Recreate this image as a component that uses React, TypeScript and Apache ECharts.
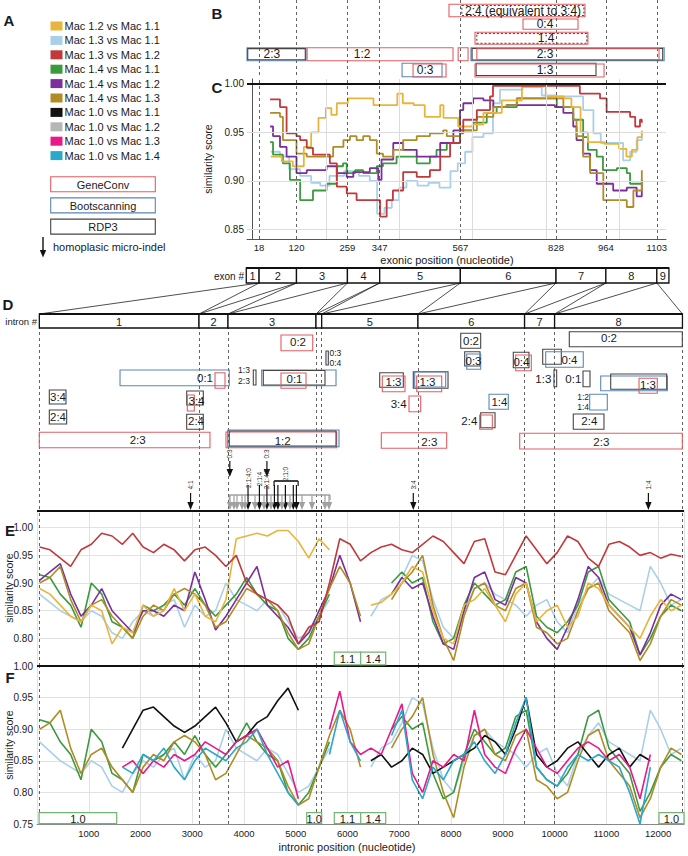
import React, { useEffect, useRef } from "react";
import * as echarts from "echarts";

const FONT = "'Liberation Sans', Arial, Helvetica, sans-serif";
const INK = "#1a1a1a";

// ---------------- Panel A: legend ----------------
const PAIR_NAMES = [
  "Mac 1.2 vs Mac 1.1", "Mac 1.3 vs Mac 1.1", "Mac 1.3 vs Mac 1.2", "Mac 1.4 vs Mac 1.1",
  "Mac 1.4 vs Mac 1.2", "Mac 1.4 vs Mac 1.3", "Mac 1.0 vs Mac 1.1", "Mac 1.0 vs Mac 1.2",
  "Mac 1.0 vs Mac 1.3", "Mac 1.0 vs Mac 1.4",
];
const PAIR_COLORS = ["#e8b53c", "#a9d0e8", "#c0393c", "#3b9a3d", "#7b2f9c", "#b18b24", "#111111", "#b6b6b6", "#e8198b", "#2ba8cc"];
const METHOD_NAMES = ["GeneConv", "Bootscanning", "RDP3"];
const KIND_STROKE = ["#e35d62", "#5a86b9", "#454545", "#454545"]; // GeneConv, Bootscan, RDP3, RDP3 (dotted)
const INDEL_NOTE = "homoplasic micro-indel";
const SCORE_NAME = "similarity score";

// ---------------- Panels B & C: exonic ----------------
const EXON_AXIS = [-15, 1128];
const EXON_BOUNDS = [18, 120, 259, 347, 567, 828, 964, 1103];
const EXON_EDGES = [-17, 1136];
const EXON_NUMS = ["1", "2", "3", "4", "5", "6", "7", "8", "9"];
const EXON_Y_TICKS = [0.85, 0.9, 0.95, 1.0];
const EXON_GRID_X = [200, 400, 600, 800, 1000];

// B boxes: [start, end, trackTop, trackBottom, method]
const B_BOXES = [
  [536, 907, 4.3, 16.7, 0], [571, 904, 5.5, 15.5, 3],
  [738, 888, 19, 29.3, 0],
  [607, 915, 32.3, 44.3, 0], [612, 912, 33.5, 43.2, 3],
  [-15, 146, 47.7, 60.7, 1], [-13, 144, 48.6, 59.8, 2],
  [149, 547, 47.7, 60.7, 0],
  [561, 588, 47.7, 60.7, 0],
  [596, 1123, 47.7, 60.7, 1], [599, 1119, 48.5, 60, 2], [612, 1109, 48.8, 59.5, 0],
  [408, 517, 63.3, 76.7, 1], [438, 528, 64, 77, 0],
  [610, 937, 63.3, 75.5, 2], [607, 959, 64, 77, 0],
];
const B_LABELS = [
  [738, 10.5, "2:4 (equivalent to 3:4)"], [798, 24.2, "0:4"], [801, 38.3, "1:4"],
  [53, 54.2, "2:3"], [299, 54.2, "1:2"], [798, 54.2, "2:3"], [471, 70, "0:3"], [798, 70, "1:3"],
];

// C similarity series: [exonic position, score]
const C_GOLD = [[50,0.925],[80,0.92],[110,0.915],[140,0.935],[160,0.95],[180,0.965],[200,0.975],[215,0.968],[230,0.98],[260,0.985],[300,0.985],[330,0.978],[380,0.978],[395,0.99],[410,0.98],[440,0.978],[470,0.966],[512,0.978],[521,0.965],[561,0.956],[600,0.958],[630,0.97],[680,0.983],[735,0.997],[793,0.998],[800,0.987],[850,0.985],[870,0.976],[895,0.95],[915,0.94],[960,0.938],[1000,0.933],[1020,0.925],[1035,0.932],[1050,0.945],[1062,0.952]];
const C_LBLUE = [[50,0.93],[75,0.925],[100,0.912],[130,0.905],[160,0.898],[185,0.895],[210,0.905],[250,0.91],[290,0.905],[320,0.9],[340,0.866],[360,0.872],[380,0.88],[400,0.893],[420,0.9],[450,0.895],[480,0.898],[510,0.893],[540,0.91],[560,0.918],[580,0.93],[600,0.945],[630,0.949],[656,0.98],[675,0.994],[736,0.997],[789,0.988],[830,0.987],[866,0.987],[902,0.973],[930,0.949],[950,0.939],[994,0.939],[1011,0.921],[1030,0.93],[1048,0.942],[1062,0.95]];
const C_RED = [[48,0.984],[75,0.976],[93,0.949],[120,0.946],[130,0.942],[148,0.934],[165,0.927],[211,0.918],[230,0.894],[257,0.887],[284,0.88],[329,0.88],[348,0.863],[366,0.88],[383,0.89],[411,0.909],[448,0.904],[484,0.911],[512,0.925],[539,0.939],[566,0.952],[575,0.963],[612,0.973],[648,0.987],[656,0.998],[866,0.998],[893,0.99],[948,0.985],[966,0.971],[1030,0.966],[1044,0.956],[1057,0.963],[1062,0.96]];
const C_GREEN = [[48,0.94],[56,0.927],[83,0.918],[102,0.901],[130,0.88],[148,0.88],[165,0.89],[202,0.897],[230,0.915],[247,0.918],[257,0.908],[280,0.911],[302,0.908],[339,0.915],[356,0.918],[393,0.925],[448,0.918],[484,0.925],[502,0.932],[530,0.939],[566,0.949],[575,0.952],[602,0.96],[639,0.97],[666,0.976],[721,0.985],[802,0.985],[830,0.976],[875,0.963],[902,0.945],[915,0.932],[939,0.925],[956,0.911],[994,0.913],[1021,0.908],[1030,0.897],[1062,0.897]];
const C_PURPLE = [[48,0.956],[56,0.946],[75,0.935],[93,0.925],[120,0.908],[148,0.911],[202,0.915],[230,0.908],[257,0.904],[275,0.909],[320,0.913],[343,0.901],[352,0.922],[384,0.939],[411,0.932],[448,0.925],[484,0.925],[512,0.939],[548,0.952],[566,0.973],[575,0.98],[602,0.985],[630,0.983],[657,0.976],[693,0.978],[793,0.978],[825,0.976],[848,0.97],[875,0.956],[884,0.942],[902,0.928],[921,0.911],[939,0.897],[966,0.897],[984,0.89],[1021,0.893],[1048,0.884],[1062,0.901]];
const C_BROWN = [[48,0.97],[75,0.966],[83,0.942],[120,0.928],[148,0.925],[192,0.925],[220,0.935],[248,0.942],[266,0.946],[284,0.942],[302,0.946],[320,0.942],[339,0.928],[356,0.925],[384,0.932],[411,0.942],[448,0.946],[484,0.949],[520,0.952],[530,0.946],[566,0.952],[612,0.966],[657,0.976],[693,0.978],[721,0.985],[830,0.985],[848,0.976],[875,0.963],[884,0.946],[902,0.925],[921,0.908],[957,0.88],[1003,0.88],[1021,0.873],[1039,0.89],[1062,0.911]];

// ---------------- Panels D, E, F: intronic ----------------
const INTRON_AXIS = [0, 12500];
const INTRON_BOUNDS = [45, 3130, 3690, 5390, 5500, 7360, 9420, 10000, 12470];
const INTRON_NUMS = ["1", "2", "3", "", "5", "6", "7", "8"];

// D boxes: [start, end, trackTop, trackBottom, method]
const D_BOXES = [
  [4714,5327,21,36.7,0], [5583,5628,37,51,2], [1604,3715,56,71.7,1], [3439,3632,58.7,74.3,0],
  [4179,4231,56,71,2], [4341,5777,56,71.7,1], [4372,5564,56.5,71,2], [4714,5197,59,74.3,0],
  [238,560,76,90,2], [238,573,96,110,2], [2892,3213,77,91,2], [2904,3039,81,97,0],
  [2892,3213,100.3,115.3,2], [44,3342,118.3,133.7,0], [3651,5790,118,133.7,0], [3684,5835,116,132.7,1],
  [3715,5777,117,132,2], [8186,8572,19.3,34.3,2], [8263,8559,37.7,52,2], [8302,8572,40,55.3,1],
  [9202,9505,38.3,53.7,2], [9248,9550,41,56.7,0], [9770,10130,35.3,50.3,2], [9828,10554,37.7,53.3,1],
  [10284,12467,17.7,32.7,2], [6621,7077,58.7,73.3,2], [6671,7110,62,77.7,0], [7270,7941,57.7,74.3,2],
  [7297,7896,58,73,1], [7336,7819,62,77.7,0], [9988,10040,56,72.7,2], [10549,10684,57,72.7,2],
  [10891,12177,62,76.7,1], [11084,12166,60,75.3,2], [11631,11984,64.3,79.3,0], [7187,7413,82,97.7,0],
  [8733,9106,80.3,95.3,1], [10678,11018,80.3,96,1], [8572,8849,98.7,113.7,2], [8553,8797,101,115.3,0],
  [10361,10954,100,115.3,2], [6652,7915,118.7,134.3,0], [9326,12467,119.3,135,0],
];
// D labels: [position, track, text, align, small]
const D_LABELS = [
  [5043,28.3,"0:2","c",0], [5651,38.5,"0:3","l",1], [5651,48.7,"0:4","l",1], [3246,64.3,"0:1","c",0],
  [3999,56.3,"1:3","c",1], [3999,66.7,"2:3","c",1], [4975,65.3,"0:1","c",0], [406,83.3,"3:4","c",0],
  [406,102.7,"2:4","c",0], [3082,87,"3:4","c",0], [3072,106.7,"2:4","c",0], [1946,126,"2:3","c",0],
  [4747,126.7,"1:2","c",0], [8385,26.7,"0:2","c",0], [8433,47,"0:3","c",0], [9360,48.3,"0:4","c",0],
  [10288,46,"0:4","c",0], [11051,24.3,"0:2","c",0], [6888,67.7,"1:3","c",0], [7545,68.3,"1:3","c",0],
  [9936,65,"1:3","r",0], [10516,65,"0:1","r",0], [11804,71,"1:3","c",0], [7143,90,"3:4","r",0],
  [8935,88.3,"1:4","c",0], [10665,83,"1:2","r",1], [10665,93.3,"1:4","r",1], [8507,106.7,"2:4","r",0],
  [10671,106.7,"2:4","c",0], [7580,127.7,"2:3","c",0], [10903,127.7,"2:3","c",0],
];
// homoplasic micro-indels: [position, trackFrom, trackTo, shade 0=black 1=grey]
const D_ARROWS = [
  [2967,179,196,0], [3725,147,163,0], [4442,147,163,0], [7270,179,196,0], [11812,179,196,0],
  [4077,171,196,0], [4297,171,196,0], [4442,171,196,0], [4587,171,196,0], [4654,171,196,0],
  [4799,171,196,0], [4952,171,196,0], [5012,171,196,0],
  [3729,181,196,1], [3806,181,196,1], [3864,181,196,1], [3961,181,196,1], [4019,181,196,1],
  [4212,181,196,1], [4386,181,196,1], [4521,181,196,1], [4733,181,196,1], [4888,181,196,1],
  [5120,181,196,1], [5313,181,196,1], [5564,181,196,1], [5642,181,196,1],
];
const D_BRACKETS = [[3717, 5662, 181, 1], [4580, 5045, 167, 0]];
const D_ARROW_LABELS = [
  [2967,171,"4:1"], [3725,140,"0:3"], [4442,140,"0:3"], [7270,171,"3:4"], [11812,171,"1:4"],
  [4077,164,"2:1:4:0"], [4297,165,"2:1:4"], [4442,165,"2:1:4:0"], [4810,160,"2:1:0"],
];

// E/F sampling positions (intronic nucleotide)
const XE = [50,250,450,650,850,1050,1250,1450,1650,1850,2050,2250,2450,2650,2850,3050,3250,3450,3650,3850,4050,4250,4450,4650,4850,5050,5250,5450,5650,5850,6050,6250,6450,6650,6850,7050,7250,7450,7650,7850,8050,8250,8450,8650,8850,9050,9250,9450,9650,9850,10050,10250,10450,10650,10850,11050,11250,11450,11650,11850,12050,12250,12450];

const E_RED = [0.965,0.960,0.945,0.930,0.960,0.970,0.990,0.985,0.970,0.990,
  0.965,0.955,0.970,0.960,0.940,0.960,0.965,0.950,0.930,0.950,
  0.900,0.880,0.870,0.860,0.840,0.790,0.820,0.830,0.900,0.980,
  0.970,0.940,0.955,0.965,0.970,0.960,0.955,0.970,0.985,0.975,
  0.955,0.935,0.975,0.980,0.920,0.915,0.950,0.985,0.960,0.935,
  0.955,0.985,0.975,0.945,0.930,0.970,0.975,0.965,0.950,0.955,
  0.945,0.952,0.948];
const E_GOLD = [0.890,0.880,0.860,0.840,0.830,0.860,0.850,0.790,0.820,0.810,
  0.860,0.840,0.850,0.890,0.850,0.880,0.840,0.830,0.870,0.980,
  0.985,0.990,0.985,0.995,0.995,0.975,0.945,0.980,0.960,null,
  null,null,0.860,0.865,0.880,0.900,0.930,0.920,0.850,0.800,
  0.790,0.860,0.870,0.890,0.860,0.830,0.880,0.900,0.830,0.850,
  0.860,0.820,0.840,0.900,0.890,0.860,0.840,0.820,0.800,0.840,
  0.870,0.850,0.860];
const E_LBLUE = [0.880,0.865,0.850,0.840,0.830,0.850,0.840,0.810,0.800,0.830,
  0.850,0.840,0.860,0.870,0.820,0.860,0.840,0.850,0.900,0.870,
  0.860,0.850,0.870,0.860,0.830,0.800,0.810,0.840,0.870,null,
  null,null,0.840,0.870,0.880,0.910,0.950,0.940,0.870,0.820,
  0.800,0.850,0.890,0.900,0.880,0.870,0.860,0.840,0.860,0.870,
  0.830,0.810,0.860,0.890,0.910,0.880,0.870,0.860,0.850,0.930,
  0.900,0.860,0.870];
const E_GREEN = [0.915,0.910,0.880,0.860,0.820,0.900,0.880,0.830,0.820,0.800,
  0.860,0.850,0.860,0.880,0.860,0.890,0.860,0.840,0.860,0.880,
  0.910,0.880,0.860,0.850,0.800,0.780,0.800,0.840,0.880,null,
  null,null,null,null,0.900,0.920,0.900,0.910,0.830,0.790,
  0.800,0.860,0.900,0.880,0.860,0.870,0.920,0.930,0.840,0.820,
  0.810,0.830,0.860,0.920,0.930,0.870,0.850,0.830,0.770,0.800,
  0.840,0.860,0.850];
const E_PURPLE = [0.905,0.920,0.935,0.880,0.840,0.860,0.890,0.850,0.830,0.810,
  0.850,0.850,0.840,0.860,0.850,0.920,0.870,0.815,0.840,0.870,
  0.900,0.930,0.860,0.840,0.820,0.790,0.810,0.850,0.890,0.950,
  0.900,0.830,null,null,0.880,0.910,0.890,0.900,0.840,0.790,
  0.780,0.850,0.910,0.920,0.870,0.860,0.910,0.900,0.830,0.800,
  0.780,0.820,0.870,0.930,0.910,0.860,0.840,0.820,0.770,0.810,
  0.860,0.880,0.870];
const E_BROWN = [0.900,0.910,0.930,0.870,0.830,0.860,0.870,0.840,0.820,0.800,
  0.840,0.860,0.850,0.880,0.890,0.880,0.860,0.820,0.830,0.860,
  0.890,0.880,0.870,0.850,0.810,0.780,0.790,0.840,0.890,0.930,
  0.900,0.840,null,null,0.870,0.900,0.920,0.950,0.860,0.800,
  0.760,0.840,0.890,0.900,0.860,0.850,0.890,0.900,0.820,0.810,
  0.790,0.800,0.850,0.890,0.900,0.850,0.830,0.810,0.760,0.790,
  0.840,0.870,0.860];
const F_BLACK = [null,null,null,null,null,null,null,null,0.870,0.900,
  0.930,0.935,0.920,0.905,0.895,0.905,0.920,0.935,0.910,0.880,
  0.890,0.910,0.920,0.945,0.965,0.930,null,null,0.900,null,
  null,null,0.850,0.860,0.840,0.850,0.870,0.860,0.830,0.840,
  0.850,0.860,0.870,0.890,0.880,0.860,0.900,0.950,0.860,0.840,
  0.850,0.870,0.880,0.860,0.840,0.860,0.870,0.840,0.860,0.850,
  null,null,null];
const F_MAGENTA = [null,null,null,null,null,null,null,null,0.840,0.850,
  0.830,0.850,0.840,0.860,0.850,0.860,0.880,0.870,0.860,0.880,
  0.890,0.900,0.870,0.840,0.850,0.790,null,null,0.900,0.960,
  0.880,0.860,0.870,0.860,0.900,0.940,0.830,0.800,0.850,0.840,
  0.860,0.850,0.930,0.860,0.840,0.830,0.870,0.900,0.870,0.840,
  0.830,0.850,0.870,0.880,0.870,0.850,0.860,0.840,0.790,0.860,
  null,null,null];
const F_CYAN = [null,null,null,null,null,null,null,null,0.840,0.830,
  0.860,0.850,0.870,0.840,0.820,0.850,0.870,0.860,0.850,0.870,
  0.880,0.900,0.860,0.830,0.800,0.780,null,null,0.860,0.930,
  0.880,0.850,null,null,0.890,0.930,0.820,0.790,0.840,0.820,
  0.850,0.860,0.880,0.850,0.830,0.860,0.910,0.950,0.840,0.820,
  0.810,0.840,0.860,0.850,0.860,0.850,0.840,0.800,0.750,0.840,
  null,null,null];

// missing-sequence boxes: [start, end, label]
const E_GAPS = [[5744, 6254, "1.1"], [6254, 6737, "1.4"]];
const F_GAPS = [[40, 1540, "1.0"], [5211, 5500, "1.0"], [5744, 6254, "1.1"], [6254, 6737, "1.4"], [12017, 12500, "1.0"]];
const E_TICKS = [0.75, 1.032];
const F_TICKS = [0.75, 1.0];

// ---------------- helpers ----------------
const ml = (key: string, v: number, color: string, width: number, dashed: boolean) => ({
  [key]: v,
  lineStyle: { color, width, type: dashed ? [3, 3] : "solid" },
});
const markLines = (data: any[]) => ({
  silent: true, symbol: ["none", "none"], label: { show: false }, animation: false, data,
});
const carrier = (axis: number, data: any[], z = 1) => ({
  type: "line", xAxisIndex: axis, yAxisIndex: axis, data: [], z, silent: true, markLine: markLines(data),
});
const DASH = "#3a3a3a";
const plain = (v: number) => String(v);

function boxesSeries(axis: number, boxes: any[], z = 6) {
  return {
    type: "custom", xAxisIndex: axis, yAxisIndex: axis, z, silent: true,
    encode: { x: [0, 1], y: [2, 3] },
    data: boxes.map((b) => [b[0], b[1], b[2], b[3]]),
    renderItem: (params: any, api: any) => {
      const b = boxes[params.dataIndex];
      const p = api.coord([b[0], b[2]]);
      const q = api.coord([b[1], b[3]]);
      const k = b[4];
      return {
        type: "rect",
        shape: { x: Math.min(p[0], q[0]), y: Math.min(p[1], q[1]), width: Math.abs(q[0] - p[0]), height: Math.abs(q[1] - p[1]) },
        style: { fill: "none", stroke: KIND_STROKE[k], lineWidth: 1.1, lineDash: k === 3 ? [2, 2] : null },
      };
    },
  };
}

function labelSeries(axis: number, labels: any[], size: number, smallSize: number, z = 7) {
  return {
    type: "custom", xAxisIndex: axis, yAxisIndex: axis, z, silent: true,
    data: labels.map((l) => [l[0], l[1]]),
    renderItem: (params: any, api: any) => {
      const l = labels[params.dataIndex];
      const p = api.coord([l[0], l[1]]);
      const al = l[3] === "r" ? "right" : l[3] === "l" ? "left" : "center";
      return {
        type: "text", x: p[0], y: p[1],
        style: {
          text: l[2], fill: INK, fontSize: l[4] ? smallSize : size, fontFamily: FONT, lineHeight: l[4] ? smallSize : size,
          align: al, verticalAlign: "middle", textAlign: al, textVerticalAlign: "middle",
        },
      };
    },
  };
}

function barSeries(axis: number, edges: number[], nums: string[], y0: number, y1: number, z = 5) {
  const segs = nums.map((_, i) => [edges[i], edges[i + 1]]);
  return {
    type: "custom", xAxisIndex: axis, yAxisIndex: axis, z, silent: true,
    encode: { x: [0, 1] },
    data: segs,
    renderItem: (params: any, api: any) => {
      const s = segs[params.dataIndex];
      const a = api.coord([s[0], y0]);
      const b = api.coord([s[1], y1]);
      const x = Math.min(a[0], b[0]), y = Math.min(a[1], b[1]);
      const w = Math.abs(b[0] - a[0]), h = Math.abs(b[1] - a[1]);
      return {
        type: "group",
        children: [
          { type: "rect", shape: { x, y, width: w, height: h }, style: { fill: "#fff", stroke: "#111", lineWidth: 1.3 } },
          { type: "line", shape: { x1: x, y1: y, x2: x + w, y2: y }, style: { stroke: "#111", lineWidth: 2 } },
          {
            type: "text", x: x + w / 2, y: y + h / 2 + 0.5,
            style: { text: nums[params.dataIndex], fill: INK, fontSize: 11, fontFamily: FONT, align: "center", verticalAlign: "middle", textAlign: "center", textVerticalAlign: "middle" },
          },
        ],
      };
    },
  };
}

function gapSeries(axis: number, gaps: any[], vLow: number, vHigh: number) {
  return {
    type: "custom", xAxisIndex: axis, yAxisIndex: axis, z: 8, silent: true,
    encode: { x: [0, 1] },
    data: gaps.map((g) => [g[0], g[1]]),
    renderItem: (params: any, api: any) => {
      const g = gaps[params.dataIndex];
      const a = api.coord([g[0], vHigh]);
      const b = api.coord([g[1], vLow]);
      return {
        type: "group",
        children: [
          { type: "rect", shape: { x: a[0], y: a[1], width: b[0] - a[0], height: b[1] - a[1] }, style: { fill: "#fff", stroke: "#72b572", lineWidth: 1.2 } },
          {
            type: "text", x: (a[0] + b[0]) / 2, y: (a[1] + b[1]) / 2 + 0.5,
            style: { text: g[2], fill: INK, fontSize: 11, fontFamily: FONT, align: "center", verticalAlign: "middle", textAlign: "center", textVerticalAlign: "middle" },
          },
        ],
      };
    },
  };
}

function arrowSeries(axis: number) {
  return {
    type: "custom", xAxisIndex: axis, yAxisIndex: axis, z: 6, silent: true,
    data: D_ARROWS.map((a) => [a[0], a[1]]),
    renderItem: (params: any, api: any) => {
      const a = D_ARROWS[params.dataIndex];
      const p0 = api.coord([a[0], a[1]]);
      const p1 = api.coord([a[0], a[2]]);
      const col = a[3] === 0 ? "#111" : "#a0a0a0";
      const hw = 3.2, hh = 8;
      return {
        type: "group",
        children: [
          { type: "line", shape: { x1: p0[0], y1: p0[1], x2: p1[0], y2: p1[1] - hh + 1 }, style: { stroke: col, lineWidth: 1.2 } },
          { type: "polygon", shape: { points: [[p1[0] - hw, p1[1] - hh], [p1[0] + hw, p1[1] - hh], [p1[0], p1[1]]] }, style: { fill: col } },
        ],
      };
    },
  };
}

function bracketSeries(axis: number) {
  return {
    type: "custom", xAxisIndex: axis, yAxisIndex: axis, z: 6, silent: true,
    data: D_BRACKETS.map((b) => [b[0], b[2]]),
    renderItem: (params: any, api: any) => {
      const b = D_BRACKETS[params.dataIndex];
      const a = api.coord([b[0], b[2]]);
      const c = api.coord([b[1], b[2]]);
      const d = api.coord([b[1], b[2] + 5]);
      const col = b[3] === 0 ? "#111" : "#a0a0a0";
      return {
        type: "group",
        children: [
          { type: "line", shape: { x1: a[0], y1: a[1], x2: c[0], y2: c[1] }, style: { stroke: col, lineWidth: 1.6 } },
          { type: "line", shape: { x1: a[0], y1: a[1], x2: a[0], y2: d[1] }, style: { stroke: col, lineWidth: 1.2 } },
          { type: "line", shape: { x1: c[0], y1: c[1], x2: c[0], y2: d[1] }, style: { stroke: col, lineWidth: 1.2 } },
        ],
      };
    },
  };
}

function arrowLabelSeries(axis: number) {
  return {
    type: "custom", xAxisIndex: axis, yAxisIndex: axis, z: 7, silent: true,
    data: D_ARROW_LABELS.map((l) => [l[0], l[1]]),
    renderItem: (params: any, api: any) => {
      const l = D_ARROW_LABELS[params.dataIndex];
      const p = api.coord([l[0], l[1]]);
      return {
        type: "text", x: p[0], y: p[1], rotation: Math.PI / 2,
        style: { text: l[2], fill: "#333", fontSize: 6.5, fontFamily: FONT, align: "center", verticalAlign: "middle", textAlign: "center", textVerticalAlign: "middle" },
      };
    },
  };
}

const lineS = (data: any[], color: string, axis: number, width: number, step?: any) => ({
  type: "line", data, xAxisIndex: axis, yAxisIndex: axis, showSymbol: false, symbol: "none",
  step: step || false, silent: true, z: 3, connectNulls: false,
  lineStyle: { color, width }, itemStyle: { color },
});
const zipE = (vals: any[]) => XE.map((u, i) => [u, vals[i]]);

function buildOption() {
  const hiddenAxis = (grid: number, range: number[], inverse = false) => ({
    type: "value", gridIndex: grid, min: range[0], max: range[1], inverse, show: false,
    splitLine: { show: false }, axisLine: { show: false }, axisTick: { show: false }, axisLabel: { show: false },
  });
  const intronBounds = INTRON_BOUNDS.map((v) => ml("xAxis", v, DASH, 0.8, true));
  const yName = { fontSize: 10.5, color: INK, fontFamily: FONT };

  return {
    animation: false,
    textStyle: { fontFamily: FONT },
    grid: [
      { left: 247, top: 0, width: 419, height: 78, outerBoundsMode: "none", containLabel: false },
      { left: 247, top: 79, width: 419, height: 160, outerBoundsMode: "none", containLabel: false },
      { left: 247, top: 268, width: 419, height: 15, outerBoundsMode: "none", containLabel: false },
      { left: 37, top: 314, width: 647, height: 196, outerBoundsMode: "none", containLabel: false },
      { left: 37, top: 510, width: 647, height: 156, outerBoundsMode: "none", containLabel: false },
      { left: 37, top: 666, width: 647, height: 158, outerBoundsMode: "none", containLabel: false },
    ],
    xAxis: [
      hiddenAxis(0, EXON_AXIS),
      {
        type: "value", gridIndex: 1, min: EXON_AXIS[0], max: EXON_AXIS[1],
        axisLine: { show: true, lineStyle: { color: "#555", width: 1 } },
        axisTick: { show: false }, splitLine: { show: false },
        axisLabel: { customValues: EXON_BOUNDS, fontSize: 9.5, color: INK, margin: 3, fontFamily: FONT, formatter: plain },
      },
      hiddenAxis(2, EXON_AXIS),
      hiddenAxis(3, INTRON_AXIS),
      {
        type: "value", gridIndex: 4, min: INTRON_AXIS[0], max: INTRON_AXIS[1], interval: 1000,
        axisLine: { show: false }, axisTick: { show: false }, axisLabel: { show: false },
        splitLine: { show: true, lineStyle: { color: "#e2e2e2", width: 1 } },
      },
      {
        type: "value", gridIndex: 5, min: INTRON_AXIS[0], max: INTRON_AXIS[1], interval: 1000,
        axisLine: { show: true, lineStyle: { color: "#888", width: 1 } }, axisTick: { show: false },
        axisLabel: { fontSize: 9.5, color: INK, margin: 4, showMinLabel: false, showMaxLabel: false, fontFamily: FONT, formatter: plain },
        splitLine: { show: true, lineStyle: { color: "#e2e2e2", width: 1 } },
      },
    ],
    yAxis: [
      hiddenAxis(0, [0, 78], true),
      {
        type: "value", gridIndex: 1, min: 0.84, max: 1.005,
        axisLine: { show: true, lineStyle: { color: "#555", width: 1 } }, axisTick: { show: false }, splitLine: { show: false },
        axisLabel: { customValues: EXON_Y_TICKS, fontSize: 10, color: INK, margin: 3, formatter: (v: number) => v.toFixed(2), fontFamily: FONT },
        name: SCORE_NAME, nameLocation: "middle", nameGap: 31, nameRotate: 90, nameTextStyle: yName,
      },
      hiddenAxis(2, [0, 1]),
      hiddenAxis(3, [0, 196], true),
      {
        type: "value", gridIndex: 4, min: E_TICKS[0], max: E_TICKS[1], interval: 0.05,
        axisLine: { show: false }, axisTick: { show: false },
        axisLabel: { fontSize: 10, color: INK, margin: 4, showMinLabel: false, showMaxLabel: false, formatter: (v: number) => v.toFixed(2), fontFamily: FONT },
        splitLine: { show: true, lineStyle: { color: "#e2e2e2", width: 1 } },
      },
      {
        type: "value", gridIndex: 5, min: F_TICKS[0], max: F_TICKS[1], interval: 0.05,
        axisLine: { show: false }, axisTick: { show: false },
        axisLabel: { fontSize: 10, color: INK, margin: 4, formatter: (v: number) => v.toFixed(2), fontFamily: FONT },
        splitLine: { show: true, lineStyle: { color: "#e2e2e2", width: 1 } },
      },
    ],
    series: [
      // B
      carrier(0, EXON_BOUNDS.map((v) => ml("xAxis", v, DASH, 0.8, true))),
      boxesSeries(0, B_BOXES),
      labelSeries(0, B_LABELS, 12, 12),
      // C
      carrier(1, [
        ...EXON_GRID_X.map((v) => ml("xAxis", v, "#dcdcdc", 1, false)),
        ...EXON_Y_TICKS.map((v) => ml("yAxis", v, "#dcdcdc", 1, false)),
        ...EXON_BOUNDS.map((v) => ml("xAxis", v, DASH, 0.8, true)),
        ml("yAxis", 1.005, "#111", 2, false),
      ]),
      lineS(C_LBLUE, PAIR_COLORS[1], 1, 1.8, "end"),
      lineS(C_GREEN, PAIR_COLORS[3], 1, 1.8, "end"),
      lineS(C_PURPLE, PAIR_COLORS[4], 1, 1.8, "end"),
      lineS(C_BROWN, PAIR_COLORS[5], 1, 1.8, "end"),
      lineS(C_GOLD, PAIR_COLORS[0], 1, 1.8, "end"),
      lineS(C_RED, PAIR_COLORS[2], 1, 1.8, "end"),
      // exon bar
      barSeries(2, [EXON_EDGES[0], ...EXON_BOUNDS, EXON_EDGES[1]], EXON_NUMS, 0, 1),
      // D
      carrier(3, intronBounds),
      barSeries(3, INTRON_BOUNDS, INTRON_NUMS, 0, 14),
      boxesSeries(3, D_BOXES),
      labelSeries(3, D_LABELS, 11.5, 8.5),
      bracketSeries(3),
      arrowSeries(3),
      arrowLabelSeries(3),
      // E
      carrier(4, [...intronBounds, ml("yAxis", E_TICKS[1], "#111", 2, false)]),
      lineS(zipE(E_LBLUE), PAIR_COLORS[1], 4, 1.6),
      lineS(zipE(E_GREEN), PAIR_COLORS[3], 4, 1.6),
      lineS(zipE(E_PURPLE), PAIR_COLORS[4], 4, 1.6),
      lineS(zipE(E_BROWN), PAIR_COLORS[5], 4, 1.6),
      lineS(zipE(E_GOLD), PAIR_COLORS[0], 4, 1.6),
      lineS(zipE(E_RED), PAIR_COLORS[2], 4, 1.6),
      gapSeries(4, E_GAPS, 0.752, 0.775),
      // F
      carrier(5, [...intronBounds, ml("yAxis", F_TICKS[1], "#111", 2, false)]),
      lineS(zipE(E_LBLUE), PAIR_COLORS[1], 5, 1.6),
      lineS(zipE(E_GREEN), PAIR_COLORS[3], 5, 1.6),
      lineS(zipE(E_BROWN), PAIR_COLORS[5], 5, 1.6),
      lineS(zipE(F_BLACK), PAIR_COLORS[6], 5, 1.6),
      lineS(zipE(F_MAGENTA), PAIR_COLORS[8], 5, 1.6),
      lineS(zipE(F_CYAN), PAIR_COLORS[9], 5, 1.6),
      gapSeries(5, F_GAPS, 0.7505, 0.768),
    ],
  };
}

function buildGraphics(chart: any) {
  const els: any[] = [];
  const txt = (text: string, x: number, y: number, size: number, align = "left", weight = "normal", rotation = 0) => ({
    type: "text", x, y, rotation, silent: true,
    style: {
      text, fill: INK, fontSize: size, fontFamily: FONT, fontWeight: weight,
      align, verticalAlign: "middle", textAlign: align, textVerticalAlign: "middle",
    },
  });
  // panel letters
  [["A", 9, 20], ["B", 217, 13], ["C", 217, 87], ["D", 8, 304], ["E", 10, 530], ["F", 10, 677]].forEach((l: any) =>
    els.push(txt(l[0], l[1], l[2], 15, "center", "bold")));
  // legend
  PAIR_NAMES.forEach((n, i) => {
    const cy = 26 + i * 14.4;
    els.push({ type: "rect", silent: true, shape: { x: 50.5, y: cy - 4.5, width: 12, height: 9 }, style: { fill: PAIR_COLORS[i] } });
    els.push(txt(n, 64.5, cy, 11));
  });
  METHOD_NAMES.forEach((n, i) => {
    const y = 176.7 + i * 21.2;
    els.push({ type: "rect", silent: true, shape: { x: 50.7, y, width: 104.6, height: 15 }, style: { fill: "#fff", stroke: KIND_STROKE[i], lineWidth: 1.1 } });
    els.push(txt(n, 103, y + 7.8, 11, "center"));
  });
  els.push({ type: "line", silent: true, shape: { x1: 43, y1: 237, x2: 43, y2: 251 }, style: { stroke: "#111", lineWidth: 1.4 } });
  els.push({ type: "polygon", silent: true, shape: { points: [[39.8, 250], [46.2, 250], [43, 257.5]] }, style: { fill: "#111" } });
  els.push(txt(INDEL_NOTE, 53, 247, 11));
  // axis captions
  els.push(txt("exonic position (nucleotide)", 447, 260, 11, "center"));
  els.push(txt("exon #", 244, 276, 10, "right"));
  els.push(txt("intron #", 37, 321, 9.5, "right"));
  els.push(txt("intronic position (nucleotide)", 347, 847, 11, "center"));
  els.push(txt(SCORE_NAME, 9, 588, 10.5, "center", "normal", Math.PI / 2));
  els.push(txt(SCORE_NAME, 9, 745, 10.5, "center", "normal", Math.PI / 2));
  // exon -> intron connectors
  const yEx = chart.convertToPixel({ yAxisIndex: 2 }, 0);
  const yIn = chart.convertToPixel({ yAxisIndex: 3 }, 0);
  EXON_BOUNDS.forEach((b, k) => {
    const xe = chart.convertToPixel({ xAxisIndex: 2 }, b);
    [INTRON_BOUNDS[k], INTRON_BOUNDS[k + 1]].forEach((ib) => {
      const xi = chart.convertToPixel({ xAxisIndex: 3 }, ib);
      els.push({ type: "line", silent: true, shape: { x1: xe, y1: yEx, x2: xi, y2: yIn }, style: { stroke: "#222", lineWidth: 0.8 } });
    });
  });
  return els;
}

export default function App() {
  const ref = useRef<HTMLDivElement>(null);
  useEffect(() => {
    document.body.style.margin = "0";
    const chart = echarts.init(ref.current as HTMLDivElement, null, { renderer: "svg" });
    chart.setOption(buildOption() as any);
    chart.setOption({ graphic: { elements: buildGraphics(chart) } } as any);
    return () => chart.dispose();
  }, []);
  return <div ref={ref} style={{ width: 688, height: 856 }} />;
}
